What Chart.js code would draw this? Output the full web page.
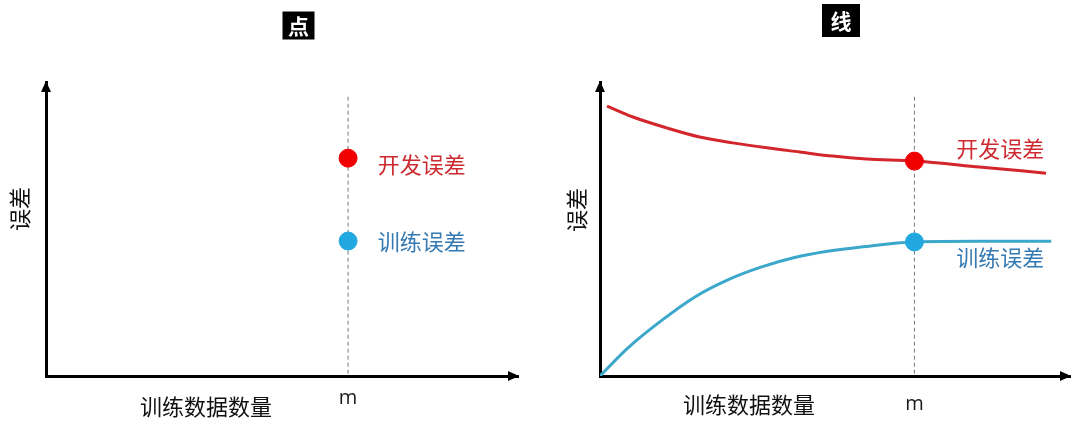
<!DOCTYPE html>
<html>
<head>
<meta charset="utf-8">
<script src="https://cdn.jsdelivr.net/npm/chart.js@4.4.0/dist/chart.umd.min.js"></script>
<style>
body { margin: 0; background: #fff; }
#wrap { position: relative; width: 1080px; height: 432px; }
.panel { position: absolute; top: 0; width: 540px; height: 432px; }
</style>
</head>
<body>
<div id="wrap">
  <div class="panel" style="left:0"><canvas id="pointChart"></canvas></div>
  <div class="panel" style="left:540px"><canvas id="lineChart"></canvas></div>
</div>
<script>
// x = 训练数据数量, y = 误差 (both 0..100, no real units)
const mLeft = 64
const mRight = 66.9
const devLeft = 74.1
const trainLeft = 45.9
const devRight = 73.1
const trainRight = 45.6

const devX = [1.5, 7.0, 14.2, 21.2, 28.2, 35.5, 42.5, 49.5, 56.7, 66.9, 80.7, 94.9]
const devY = [91.8, 88.1, 84.4, 81.3, 79.3, 77.6, 76.2, 74.8, 73.8, 73.1, 71.1, 69.0]
const trainX = [0, 5.9, 13.2, 20.2, 27.2, 34.4, 41.4, 48.4, 55.6, 66.9, 80.7, 96.0]
const trainY = [0, 9.5, 19.0, 26.9, 32.7, 37.1, 40.3, 42.4, 43.9, 45.6, 45.8, 45.8]

const RED = '#f00000'
const RED_LINE = '#d3262c'
const RED_TEXT = '#cc2a30'
const BLUE = '#22a8e0'
const BLUE_LINE = '#3aa7cb'
const BLUE_TEXT = '#3479b1'
const CJK = '"Noto Sans CJK SC", "Noto Sans", sans-serif'

function toPoints (xs, ys) {
    return xs.map((x, i) => ({x: x, y: ys[i]}))
}

function dot (x, y, color) {
    return {
        data: [{x: x, y: y}],
        pointRadius: 9,
        pointBackgroundColor: color,
        pointBorderColor: color,
        showLine: false
    }
}

function curve (xs, ys, color) {
    return {
        data: toPoints(xs, ys),
        borderColor: color,
        borderWidth: 3,
        pointRadius: 0,
        showLine: true,
        cubicInterpolationMode: 'monotone'
    }
}

const decor = {
    id: 'decor',
    beforeDatasetsDraw (chart, args, o) {
        const {ctx, scales: {x, y}} = chart
        // dashed line at m
        ctx.save()
        ctx.strokeStyle = '#7a7a80'
        ctx.lineWidth = 1
        ctx.setLineDash([4, 3])
        ctx.beginPath()
        ctx.moveTo(x.getPixelForValue(o.m), y.getPixelForValue(95))
        ctx.lineTo(x.getPixelForValue(o.m), y.getPixelForValue(0))
        ctx.stroke()
        ctx.restore()
    },
    afterDraw (chart, args, o) {
        const {ctx, chartArea: a, scales: {x, y}} = chart
        ctx.save()
        // arrow heads
        ctx.fillStyle = '#000'
        ctx.beginPath()
        ctx.moveTo(a.left, a.top - 1)
        ctx.lineTo(a.left - 5, a.top + 10)
        ctx.lineTo(a.left + 5, a.top + 10)
        ctx.fill()
        ctx.beginPath()
        ctx.moveTo(a.right + 1, a.bottom)
        ctx.lineTo(a.right - 10, a.bottom - 5)
        ctx.lineTo(a.right - 10, a.bottom + 5)
        ctx.fill()

        // title box
        ctx.fillRect(o.title.x - o.title.w / 2, o.title.y - o.title.h / 2, o.title.w, o.title.h)
        ctx.fillStyle = '#fff'
        ctx.font = 'bold 21px ' + CJK
        ctx.textAlign = 'center'
        ctx.textBaseline = 'middle'
        ctx.fillText(o.title.text, o.title.x, o.title.y + 1)

        // axis titles
        ctx.fillStyle = '#111'
        ctx.font = '22px ' + CJK
        ctx.fillText('训练数据数量', o.xTitle[0], o.xTitle[1])
        ctx.save()
        ctx.translate(o.yTitle[0], o.yTitle[1])
        ctx.rotate(-Math.PI / 2)
        ctx.fillText('误差', 0, 0)
        ctx.restore()

        // series labels
        ctx.textAlign = 'left'
        ctx.fillStyle = RED_TEXT
        ctx.fillText('开发误差', x.getPixelForValue(o.devLabel[0]), y.getPixelForValue(o.devLabel[1]))
        ctx.fillStyle = BLUE_TEXT
        ctx.fillText('训练误差', x.getPixelForValue(o.trainLabel[0]), y.getPixelForValue(o.trainLabel[1]))
        ctx.restore()
    }
}

function makePanel (id, datasets, p) {
    return new Chart(document.getElementById(id), {
        type: 'scatter',
        data: {datasets: datasets},
        plugins: [decor],
        options: {
            responsive: true,
            maintainAspectRatio: false,
            animation: false,
            layout: {padding: p.padding},
            plugins: {
                legend: {display: false},
                tooltip: {enabled: false},
                decor: p.decor
            },
            scales: {
                x: {
                    type: 'linear',
                    min: 0,
                    max: 100,
                    grid: {display: false, drawTicks: false},
                    border: {color: '#000', width: 3},
                    afterBuildTicks: scale => { scale.ticks = [{value: p.decor.m}] },
                    ticks: {
                        padding: p.tickPad,
                        color: '#1a1a1a',
                        font: {size: 20, family: '"Open Sans", "Liberation Sans", sans-serif'},
                        callback: () => 'm'
                    }
                },
                y: {
                    min: 0,
                    max: 100,
                    grid: {display: false, drawTicks: false},
                    border: {color: '#000', width: 3},
                    ticks: {display: false}
                }
            }
        }
    })
}

makePanel('pointChart', [
    dot(mLeft, devLeft, RED),
    dot(mLeft, trainLeft, BLUE)
], {
    padding: {left: 46, right: 22, top: 82, bottom: 12},
    tickPad: 10,
    decor: {
        m: mLeft,
        title: {text: '点', x: 298.5, y: 25.5, w: 32, h: 28},
        xTitle: [206, 407],
        yTitle: [20, 209],
        devLabel: [70.3, 71.8],
        trainLabel: [70.3, 45.6]
    }
})

makePanel('lineChart', [
    dot(mRight, devRight, RED),
    dot(mRight, trainRight, BLUE),
    curve(devX, devY, RED_LINE),
    curve(trainX, trainY, BLUE_LINE)
], {
    padding: {left: 60, right: 9, top: 82, bottom: 0},
    tickPad: 16,
    decor: {
        m: mRight,
        title: {text: '线', x: 301, y: 20.5, w: 38, h: 33},
        xTitle: [209, 405],
        yTitle: [37, 210],
        devLabel: [75.8, 77.2],
        trainLabel: [75.8, 40.1]
    }
})
</script>
</body>
</html>
